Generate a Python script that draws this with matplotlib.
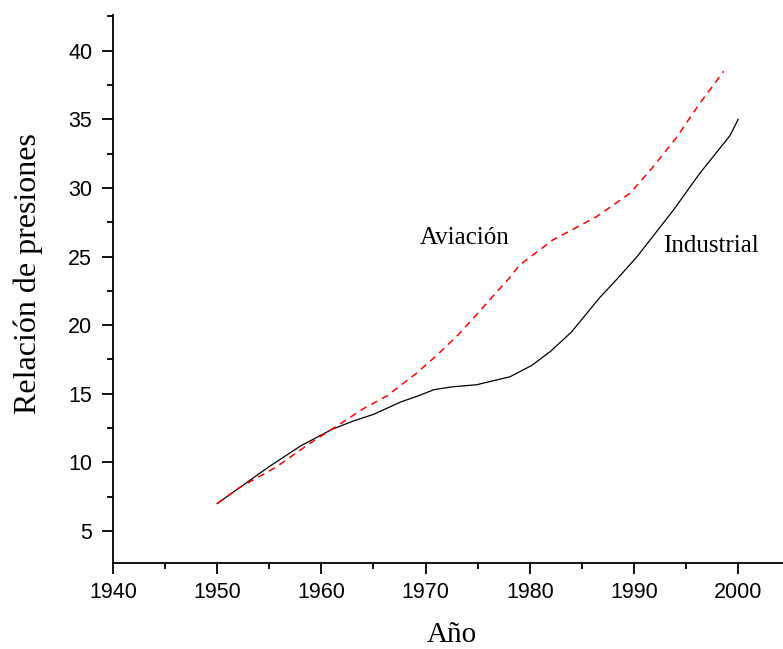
import matplotlib
matplotlib.use('Agg')
import matplotlib.pyplot as plt
from matplotlib.ticker import MultipleLocator

# Industrial (black solid)
ind_year = [1950, 1955, 1958, 1960, 1961, 1963, 1965, 1967.6, 1969.3, 1970.8, 1972.5, 1974.9, 1978.1,
            1980.2, 1982, 1984, 1986.7, 1988.3, 1990.3, 1993.8, 1996.3, 1999.2, 2000]
ind_val = [7.0, 9.7, 11.2, 12.0, 12.4, 13.0, 13.5, 14.4, 14.85, 15.3, 15.5, 15.66, 16.24,
           17.07, 18.1, 19.5, 22.0, 23.3, 25.0, 28.4, 31.05, 33.8, 35.0]

# Aviación (red dashed)
av_year = [1950, 1952, 1955.7, 1958.9, 1962.1, 1964.0, 1966.3, 1969.1, 1971.1, 1973.1, 1974.7, 1976.4,
           1978.0, 1979.0, 1982.2, 1986.4, 1989.6, 1991.8, 1994.1, 1996.3, 1998.6]
av_val = [7.0, 8.1, 9.68, 11.39, 12.96, 13.9, 14.85, 16.48, 17.82, 19.28, 20.6, 22.06,
          23.4, 24.37, 26.2, 27.9, 29.6, 31.5, 33.7, 36.15, 38.5]

fig = plt.figure(figsize=(7.83, 6.49), dpi=100)
ax = fig.add_axes([113/783, 1 - 563/649, 1 - 113/783, (563 - 15)/649])

ax.plot(ind_year, ind_val, color='black', lw=0.9)
ax.plot(av_year, av_val, color='red', lw=1.1, dashes=(4.5, 3.5))

ax.set_xlim(1940, 2004.3)
ax.set_ylim(2.67, 42.6)
ax.xaxis.set_major_locator(MultipleLocator(10))
ax.xaxis.set_minor_locator(MultipleLocator(5))
ax.yaxis.set_minor_locator(MultipleLocator(2.5))
ax.set_yticks([5, 10, 15, 20, 25, 30, 35, 40])

for s in ['top', 'right']:
    ax.spines[s].set_visible(False)
for s in ['left', 'bottom']:
    ax.spines[s].set_linewidth(1.3)

ax.tick_params(which='major', direction='out', length=8, width=1.3, labelsize=15.5, pad=6)
ax.tick_params(axis='y', which='major', pad=7)
ax.tick_params(which='minor', direction='out', length=4.5, width=1.3)
for lab in ax.get_xticklabels() + ax.get_yticklabels():
    lab.set_family('Liberation Sans')

serif = 'Liberation Serif'
fig.text(451.5/783, 1 - 642/649, 'Año', family=serif, fontsize=21, ha='center', va='baseline')
fig.text(28/783, 1 - 274/649, 'Relación de presiones', family=serif, fontsize=23,
         rotation=90, ha='center', va='center')
ax.text(1969.46, 25.88, 'Aviación', family=serif, fontsize=18, ha='left', va='baseline')
ax.text(1992.78, 25.34, 'Industrial', family=serif, fontsize=18, ha='left', va='baseline')

fig.savefig('out.png', dpi=100)
